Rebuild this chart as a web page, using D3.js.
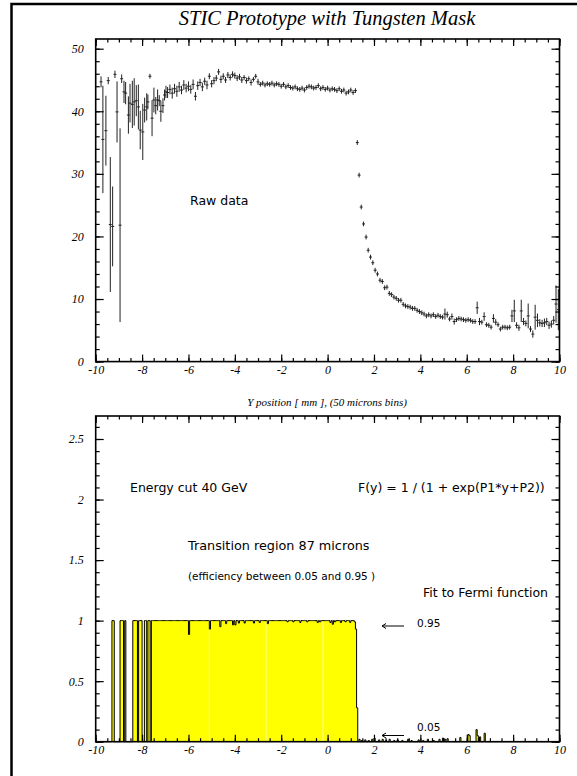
<!DOCTYPE html>
<html>
<head>
<meta charset="utf-8">
<script src="https://cdn.jsdelivr.net/npm/d3@7"></script>
<style>
  body { margin: 0; background: #fff; }
  svg { display: block; }
  .tick text { font-family: "Liberation Serif", serif; font-style: italic; font-size: 12px; fill: #000; }
  .sans { font-family: "DejaVu Sans", sans-serif; fill: #000; }
</style>
</head>
<body>
<div id="chart"></div>
<script>
// raw data, top panel (bin centre in mm, counts, error)
var rawX = [-9.77, -9.69, -9.56, -9.46, -9.37, -9.27, -9.17, -9.08, -8.95, -8.88,
  -8.78, -8.71, -8.59, -8.52, -8.42, -8.34, -8.25, -8.16, -8.08, -7.97,
  -7.89, -7.80, -7.75, -7.66, -7.57, -7.49, -7.41, -7.33, -7.26, -7.19,
  -7.10, -7.03, -6.97,
  -6.9, -6.8, -6.7, -6.6, -6.5, -6.4, -6.3, -6.2, -6.1, -6.0,
  -5.9, -5.8, -5.7, -5.6, -5.5, -5.4, -5.3, -5.2, -5.1, -5.0,
  -4.9, -4.8, -4.7, -4.6, -4.5, -4.4, -4.3, -4.2, -4.1, -4.0,
  -3.9, -3.8, -3.7, -3.6, -3.5, -3.4, -3.3, -3.2, -3.1, -3.0,
  -2.9, -2.8, -2.7, -2.6, -2.5, -2.4, -2.3, -2.2, -2.1, -2.0,
  -1.9, -1.8, -1.7, -1.6, -1.5, -1.4, -1.3, -1.2, -1.1, -1.0,
  -0.9, -0.8, -0.7, -0.6, -0.5, -0.4, -0.3, -0.2, -0.1, 0.0,
  0.1, 0.2, 0.3, 0.4, 0.5, 0.6, 0.7, 0.8, 0.9, 1.0, 1.1, 1.2,
  1.28, 1.36, 1.45, 1.55, 1.66, 1.75, 1.85, 1.95, 2.05, 2.15, 2.26,
  2.36, 2.46, 2.56, 2.66, 2.76, 2.86, 2.96, 3.06, 3.16, 3.26, 3.36,
  3.46, 3.56, 3.66, 3.76, 3.86, 3.96, 4.06, 4.16, 4.26, 4.36, 4.46,
  4.56, 4.66, 4.76, 4.86, 4.96, 5.06, 5.16, 5.26, 5.36, 5.46, 5.56,
  5.66, 5.76, 5.86, 5.96, 6.06, 6.16, 6.26, 6.36, 6.45, 6.55, 6.65,
  6.75, 6.85, 6.95, 7.05, 7.15, 7.25, 7.35, 7.45, 7.55, 7.65, 7.75,
  7.85, 7.95, 8.05, 8.15, 8.25, 8.35, 8.45, 8.55, 8.65, 8.75, 8.85,
  8.95, 9.05, 9.15, 9.25, 9.35, 9.45, 9.55, 9.65, 9.75, 9.85, 9.95];
var rawY = [44.7, 35.5, 36.9, 44.9, 21.9, 21.6, 45.9, 39.9, 21.8, 45.2,
  43.1, 42.9, 39.4, 41.3, 41.1, 41.5, 41.7, 40.7, 37.0, 36.7,
  40.2, 40.7, 41.5, 45.6, 38.9, 41.8, 40.9, 41.8, 41.7, 40.0,
  40.9, 42.6, 43.1,
  43.0, 43.5, 42.9, 43.6, 43.2, 43.9, 43.4, 44.2, 43.7, 44.0,
  43.5, 44.3, 42.4, 44.1, 44.6, 43.9, 44.8, 44.2, 45.6, 44.4,
  44.9, 45.3, 46.3, 45.1, 45.6, 45.0, 45.8, 45.4, 45.9, 45.7,
  45.3, 45.5, 45.0, 45.4, 44.9, 45.2, 44.6, 45.1, 45.6, 44.7,
  44.3, 44.5, 44.2, 44.4, 44.3, 44.5, 44.2, 44.4, 44.3, 44.0,
  44.3, 43.9, 44.1, 43.8, 43.7, 43.9, 43.6, 43.5, 43.7, 43.4,
  43.8, 44.0, 43.9, 43.7, 43.8, 44.1, 43.6, 43.8, 43.5, 43.7,
  43.4, 43.6, 43.5, 43.3, 43.6, 43.2, 43.4, 42.9, 43.1, 43.4, 43.0, 43.3,
  35.0, 29.8, 24.7, 22.0, 19.9, 17.8, 16.7, 15.8, 14.6, 14.0, 13.0,
  12.8, 11.8, 11.9, 10.9, 10.7, 10.3, 10.1, 9.8, 9.8, 9.15, 8.9,
  8.8, 8.7, 8.5, 8.5, 8.2, 8.0, 7.8, 7.6, 7.3, 7.5, 7.3,
  7.5, 7.2, 7.4, 7.2, 7.1, 7.6, 7.5, 6.8, 7.2, 6.4, 6.7,
  6.9, 6.8, 6.7, 6.6, 6.7, 6.6, 6.4, 6.4, 8.6, 6.4, 6.3,
  7.2, 5.9, 5.8, 5.5, 6.9, 6.3, 5.9, 5.2, 5.5, 5.5, 5.4,
  5.5, 7.3, 8.1, 5.8, 5.4, 8.1, 6.4, 6.1, 7.3, 5.2, 4.4,
  7.1, 6.6, 6.2, 6.1, 6.2, 6.4, 5.8, 6.0, 6.6, 9.2, 8.3];
var rawErr = [0.8, 8.5, 5.5, 0.5, 10.7, 6.3, 0.5, 4.8, 15.4, 0.6,
  1.7, 1.7, 2.9, 3.0, 3.7, 3.7, 2.4, 3.5, 3.0, 4.4,
  1.9, 2.1, 1.1, 0.3, 2.8, 1.9, 1.3, 1.6, 0.8, 1.6,
  1.1, 0.8, 0.9,
  0.8, 0.7, 0.8, 0.7, 0.8, 0.7, 0.6, 0.7, 0.6, 0.7,
  0.6, 0.7, 0.6, 0.6, 0.5, 0.6, 0.5, 0.6, 0.4, 0.5,
  0.5, 0.4, 0.4, 0.5, 0.4, 0.4, 0.4, 0.4, 0.4, 0.4,
  0.4, 0.4, 0.4, 0.3, 0.4, 0.3, 0.4, 0.3, 0.3, 0.4,
  0.3, 0.3, 0.3, 0.3, 0.3, 0.3, 0.3, 0.3, 0.3, 0.3,
  0.3, 0.3, 0.3, 0.3, 0.3, 0.3, 0.3, 0.3, 0.3, 0.3,
  0.3, 0.3, 0.3, 0.3, 0.3, 0.3, 0.3, 0.3, 0.3, 0.3,
  0.3, 0.3, 0.3, 0.3, 0.3, 0.3, 0.3, 0.3, 0.3, 0.3, 0.3, 0.3,
  0.3, 0.3, 0.3, 0.3, 0.3, 0.3, 0.3, 0.3, 0.3, 0.3, 0.3,
  0.3, 0.3, 0.3, 0.3, 0.3, 0.3, 0.3, 0.3, 0.3, 0.3, 0.3,
  0.3, 0.3, 0.3, 0.3, 0.3, 0.3, 0.3, 0.3, 0.3, 0.3, 0.3,
  0.3, 0.3, 0.3, 0.3, 0.3, 0.8, 0.4, 0.3, 0.4, 0.4, 0.3,
  0.3, 0.3, 0.3, 0.3, 0.3, 0.3, 0.3, 0.3, 0.9, 0.5, 0.3,
  0.6, 0.3, 0.3, 0.3, 0.6, 0.4, 0.3, 0.3, 0.3, 0.3, 0.3,
  0.3, 0.9, 1.7, 0.4, 0.4, 1.7, 0.5, 0.4, 1.9, 0.4, 0.5,
  1.9, 1.0, 0.5, 0.5, 0.6, 0.5, 0.5, 0.5, 0.6, 2.9, 3.2];

var xTicksMajor = [-10, -8, -6, -4, -2, 0, 2, 4, 6, 8, 10];
var topYTicks = [0, 10, 20, 30, 40, 50];
var botYTicks = [0, 0.5, 1, 1.5, 2, 2.5];

// efficiency histogram, bottom panel (50 micron bins)
var effBinWidth = 0.05;
var effRuns = [[-9.3, -9.2], [-8.95, -8.8], [-8.75, -8.7], [-8.4, -8.2], [-8.15, -8.0],
  [-7.9, -7.8], [-7.75, -7.65], [-7.6, 1.2]];
var effDipX = [-6.0, -5.1, -4.65, -4.4, -4.1, -4.0, -3.85, -3.6, -3.2, -2.95, -2.6,
  -1.75, -1.5, -1.2, -0.9, -0.45, -0.35, 0.1, 0.2, 0.3, 0.55, 0.75, 0.95, 1.15];
var effDipY = [0.885, 0.93, 0.95, 0.975, 0.965, 0.965, 0.98, 0.98, 0.98, 0.985, 0.975,
  0.99, 0.99, 0.985, 0.99, 0.985, 0.99, 0.985, 0.97, 0.99, 0.985, 0.99, 0.985, 0.99];
var effTailX = [1.2, 1.25, 1.35, 1.45, 1.6, 1.75, 1.9, 2.0, 2.2, 2.35, 2.5, 2.65, 2.85, 3.0,
  3.2, 3.45, 3.6, 3.9, 4.1, 4.3, 4.55, 4.8, 4.95, 5.05, 5.15, 5.7, 6.05, 6.1, 6.4, 6.45,
  6.55, 6.75];
var effTailY = [0.93, 0.28, 0.02, 0.01, 0.015, 0.01, 0.02, 0.03, 0.015, 0.02, 0.01, 0.02,
  0.01, 0.015, 0.01, 0.02, 0.01, 0.015, 0.01, 0.02, 0.01, 0.02, 0.03, 0.02, 0.025, 0.035,
  0.06, 0.05, 0.1, 0.05, 0.04, 0.07];
// faint seams seen inside the filled area
var effSeams = [-5.1, -2.65, -0.2];

var width = 577, height = 776;
var svg = d3.select("#chart").append("svg")
  .attr("width", width).attr("height", height);

// outer frame
svg.append("rect")
  .attr("x", 11.5).attr("y", 4).attr("width", 620).attr("height", 820)
  .attr("fill", "none").attr("stroke", "#000").attr("stroke-width", 2.5);

svg.append("text")
  .attr("x", 327).attr("y", 25).attr("text-anchor", "middle")
  .style("font-family", "Liberation Serif, serif").style("font-style", "italic")
  .style("font-size", "20.5px").text("STIC Prototype with Tungsten Mask");

var x = d3.scaleLinear().domain([-10, 10]).range([95.7, 559.5]);
var yTop = d3.scaleLinear().domain([0, 51.55]).range([361.6, 39]);
var yBot = d3.scaleLinear().domain([0, 2.69]).range([741.7, 416]);

function frame(y, yMinor, yMajor, fmt) {
  var g = svg.append("g");
  var y0 = y.range()[0], y1 = y.range()[1];
  var xMinor = d3.range(-10, 10.001, 0.5);
  // bottom
  g.append("g").attr("transform", "translate(0," + y0 + ")")
    .call(d3.axisBottom(x).tickValues(xMinor).tickSize(-3.5).tickFormat(""));
  g.append("g").attr("transform", "translate(0," + y0 + ")")
    .call(d3.axisBottom(x).tickValues(xTicksMajor).tickSize(-7).tickPadding(4)
      .tickFormat(function (d) { return String(d); }));
  // top
  g.append("g").attr("transform", "translate(0," + y1 + ")")
    .call(d3.axisTop(x).tickValues(xMinor).tickSize(-3.5).tickFormat(""));
  g.append("g").attr("transform", "translate(0," + y1 + ")")
    .call(d3.axisTop(x).tickValues(xTicksMajor).tickSize(-7).tickFormat(""));
  // left
  g.append("g").attr("transform", "translate(" + x(-10) + ",0)")
    .call(d3.axisLeft(y).tickValues(yMinor).tickSize(-4).tickFormat(""));
  g.append("g").attr("transform", "translate(" + x(-10) + ",0)")
    .call(d3.axisLeft(y).tickValues(yMajor).tickSize(-8).tickPadding(12)
      .tickFormat(fmt));
  // right
  g.append("g").attr("transform", "translate(" + x(10) + ",0)")
    .call(d3.axisRight(y).tickValues(yMinor).tickSize(-4).tickFormat(""));
  g.append("g").attr("transform", "translate(" + x(10) + ",0)")
    .call(d3.axisRight(y).tickValues(yMajor).tickSize(-8).tickFormat(""));
  g.selectAll(".domain").remove();
  g.selectAll(".tick line").attr("stroke", "#000").attr("stroke-width", 1.2);
  g.append("rect")
    .attr("x", x(-10)).attr("y", y1)
    .attr("width", x(10) - x(-10)).attr("height", y0 - y1)
    .attr("fill", "none").attr("stroke", "#000").attr("stroke-width", 1.6);
  return g;
}

// ---- top panel: raw data ----
var raw = rawX.map(function (d, i) { return { x: d, y: rawY[i], e: rawErr[i] }; });
var pts = svg.append("g").attr("stroke", "#222").attr("stroke-width", 1);
pts.selectAll("line.err").data(raw).enter().append("line")
  .attr("x1", function (d) { return x(d.x); })
  .attr("x2", function (d) { return x(d.x); })
  .attr("y1", function (d) { return yTop(d.y - d.e) + 0.5; })
  .attr("y2", function (d) { return yTop(d.y + d.e) - 0.5; });
pts.selectAll("line.mk").data(raw).enter().append("line")
  .attr("x1", function (d) { return x(d.x) - 1.5; })
  .attr("x2", function (d) { return x(d.x) + 1.5; })
  .attr("y1", function (d) { return yTop(d.y); })
  .attr("y2", function (d) { return yTop(d.y); });

frame(yTop, d3.range(0, 51, 2), topYTicks, function (d) { return String(d); });

svg.append("text").attr("class", "sans")
  .attr("x", 190).attr("y", 205).style("font-size", "12.5px").text("Raw data");

svg.append("text")
  .attr("x", 327).attr("y", 406).attr("text-anchor", "middle")
  .style("font-family", "Liberation Serif, serif").style("font-style", "italic")
  .style("font-size", "11px").text("Y position [ mm ],  (50 microns bins)");

// ---- bottom panel: efficiency ----
var bins = d3.range(400).map(function (i) {
  var lo = Math.round((-10 + i * effBinWidth) * 100) / 100;
  var v = 0;
  effRuns.forEach(function (r) { if (lo >= r[0] - 1e-6 && lo < r[1] - 1e-6) v = 1; });
  var k = effDipX.indexOf(lo);
  if (k >= 0) v = effDipY[k];
  k = effTailX.indexOf(lo);
  if (k >= 0) v = effTailY[k];
  return { lo: lo, v: v };
});
var steps = bins.map(function (b) { return [b.lo, b.v]; });
steps.push([10, bins[bins.length - 1].v]);

svg.append("path").datum(steps)
  .attr("fill", "#ffff00")
  .attr("d", d3.area().curve(d3.curveStepAfter)
    .x(function (d) { return x(d[0]); })
    .y0(yBot(0)).y1(function (d) { return yBot(d[1]); }));
svg.append("g").selectAll("line").data(effSeams).enter().append("line")
  .attr("x1", function (d) { return x(d); }).attr("x2", function (d) { return x(d); })
  .attr("y1", yBot(0.99)).attr("y2", yBot(0.005))
  .attr("stroke", "#fff").attr("stroke-opacity", 0.7).attr("stroke-width", 0.8);
svg.append("path").datum(steps)
  .attr("fill", "none").attr("stroke", "#000").attr("stroke-width", 1)
  .attr("d", d3.line().curve(d3.curveStepAfter)
    .x(function (d) { return x(d[0]); })
    .y(function (d) { return yBot(d[1]); }));

frame(yBot, d3.range(0, 2.69, 0.1), botYTicks, function (d) { return String(d); });

var notes = [
  { t: "Energy cut 40 GeV", x: 130, y: 492, s: 12.5, a: "start" },
  { t: "F(y) = 1 / (1 + exp(P1*y+P2))", x: 358, y: 492, s: 12.5, a: "start" },
  { t: "Transition region 87 microns", x: 188, y: 550, s: 12.8, a: "start" },
  { t: "(efficiency between 0.05 and 0.95 )", x: 188, y: 580, s: 10.5, a: "start" },
  { t: "Fit to Fermi function", x: 548, y: 597, s: 12.5, a: "end" },
  { t: "0.95", x: 417, y: 627, s: 10.5, a: "start" },
  { t: "0.05", x: 417, y: 731, s: 10.5, a: "start" }
];
svg.selectAll("text.note").data(notes).enter().append("text")
  .attr("class", "sans note")
  .attr("x", function (d) { return d.x; }).attr("y", function (d) { return d.y; })
  .attr("text-anchor", function (d) { return d.a; })
  .style("font-size", function (d) { return d.s + "px"; })
  .text(function (d) { return d.t; });

// arrows pointing at 0.95 and 0.05
[626, 735.5].forEach(function (yy) {
  var g = svg.append("g").attr("stroke", "#000").attr("stroke-width", 1).attr("fill", "none");
  g.append("line").attr("x1", 382).attr("x2", 404).attr("y1", yy).attr("y2", yy);
  g.append("path").attr("d", "M386," + (yy - 2.5) + "L382," + yy + "L386," + (yy + 2.5));
});
</script>
</body>
</html>
